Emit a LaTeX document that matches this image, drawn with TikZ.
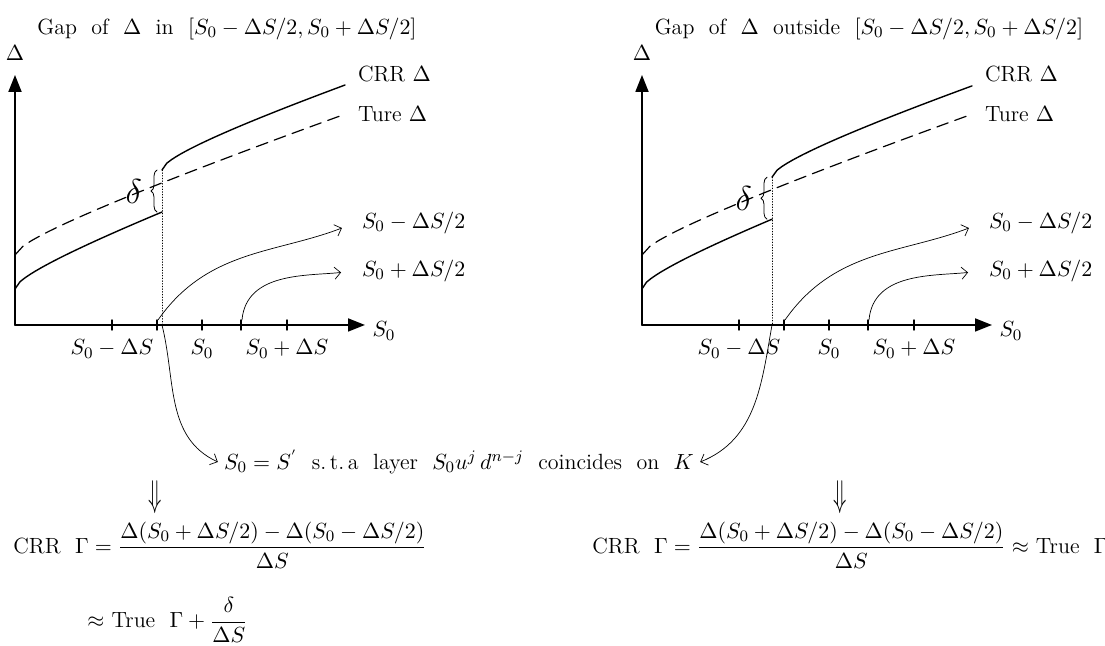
\documentclass[tikz,border=0pt]{standalone}
\usepackage{amsmath}
\usepackage{graphicx}
\usetikzlibrary{arrows.meta,decorations.pathreplacing,positioning}
\begin{document}
\begin{tikzpicture}[x=0.5pt, y=0.5pt, line join=round, line cap=round, font=\fontsize{11}{13}\selectfont]
	\tikzset{axis/.style={line width=0.9pt, -{Triangle[length=8.5pt,width=6.5pt]}},
		curve/.style={line width=0.7pt},
		thin arrow/.style={line width=0.35pt, -{Straight Barb[length=3pt,width=6pt]}},
		guide/.style={line width=0.35pt, densely dotted},
		implies/.style={inner sep=0pt}}
	\useasboundingbox (0,0) rectangle (1105,646);
	% two panels: gap inside / outside the half steps
	\foreach \px/\jx/\tx/\where in {15/147/212/in, 642/130/227/outside}{
	\begin{scope}[shift={(\px,321)}]
		\pgfmathsetmacro\lo{36+0.314*\jx+2.54*sqrt(\jx)}
		\pgfmathsetmacro\hi{\lo+42}
		\node (title\where) at (\tx,296) {Gap~~of~~$\Delta$~~\where~~$[S_0-\Delta S/2,S_0+\Delta S/2]$};
		\draw[axis] (0,0) -- (350,0);
		\draw[axis] (0,0) -- (0,250);
		\node (ylab\where) at (0,272) {$\Delta$};
		\node (xlab\where) at (369,-6) {$S_0$};
		\foreach \t in {97,142,187,226,272}
		\draw[line width=0.7pt] (\t,-5) -- (\t,5);
		\node (lft\where) at (97,-24) {$S_0-\Delta S$};
		\node (mid\where) at (187,-24) {$S_0$};
		\node (rgt\where) at (272,-24) {$S_0+\Delta S$};
		% true and CRR deltas
		\draw[curve, line width=0.6pt, dash pattern=on 6pt off 3.5pt] plot[domain=0:328, samples=40] (\x,{70+0.299*\x+2.32*sqrt(\x)});
		\draw[curve] plot[domain=0:\jx, samples=30] (\x,{36+0.314*\x+2.54*sqrt(\x)});
		\draw[curve] plot[domain=\jx:330, samples=40] (\x,{\hi+0.279*(\x-\jx)+2.51*sqrt(abs(\x-\jx))});
		\node[anchor=west] (crr\where) at (336,251) {CRR $\Delta$};
		\node[anchor=west] (ture\where) at (336,211) {Ture $\Delta$};
		\draw[guide] (\jx,\hi) -- (\jx,0);
		\coordinate (jump\where) at (\jx,0);
		\draw[decorate, decoration={brace, amplitude=3pt}, line width=0.4pt] (\jx-5,\lo) -- (\jx-5,\hi) node[midway, left=4pt] (gap\where) {\LARGE$\delta$};
		% half steps
		\node[anchor=west] (minus\where) at (340,102) {$S_0-\Delta S/2$};
		\node[anchor=west] (plus\where) at (340,54) {$S_0+\Delta S/2$};
		\coordinate (a\where) at (143,5);
		\coordinate (b\where) at (227,5);
		\draw[thin arrow, shorten >=7pt] (a\where) to[out=55,in=201] (minus\where.west);
		\draw[thin arrow, shorten >=7pt] (b\where) to[out=85,in=186] (plus\where.west);
	\end{scope}}
	\node[inner sep=1pt] (cond) at (459,184) {$S_0=S^{'}$~~s.\,t.\,a~~layer~~$S_0u^j\,d^{n-j}$~~coincides~~on~~$K$};
	\draw[thin arrow] (jumpin) to[out=-76,in=155] ([xshift=-2pt]cond.west);
	\draw[thin arrow] (jumpoutside) to[out=-100,in=22] ([xshift=2pt]cond.east);
	\node[implies] (impin) at (155,149) {\scalebox{1}[1.7]{$\Downarrow$}};
	\node[implies] (impout) at (840,149) {\scalebox{1}[1.7]{$\Downarrow$}};
	\node[anchor=west, inner sep=1pt] (gamin) at (11,101) {CRR~~$\Gamma=\dfrac{\Delta(S_0+\Delta S/2)-\Delta(S_0-\Delta S/2)}{\Delta S}$};
	\node[anchor=west, inner sep=1pt] (apxin) at (85,26) {$\approx$ True~~$\Gamma+\dfrac{\delta}{\Delta S}$};
	\node[anchor=west, inner sep=1pt] (gamout) at (590,101) {CRR~~$\Gamma=\dfrac{\Delta(S_0+\Delta S/2)-\Delta(S_0-\Delta S/2)}{\Delta S}\approx$ True~~$\Gamma$};
\end{tikzpicture}
\end{document}
